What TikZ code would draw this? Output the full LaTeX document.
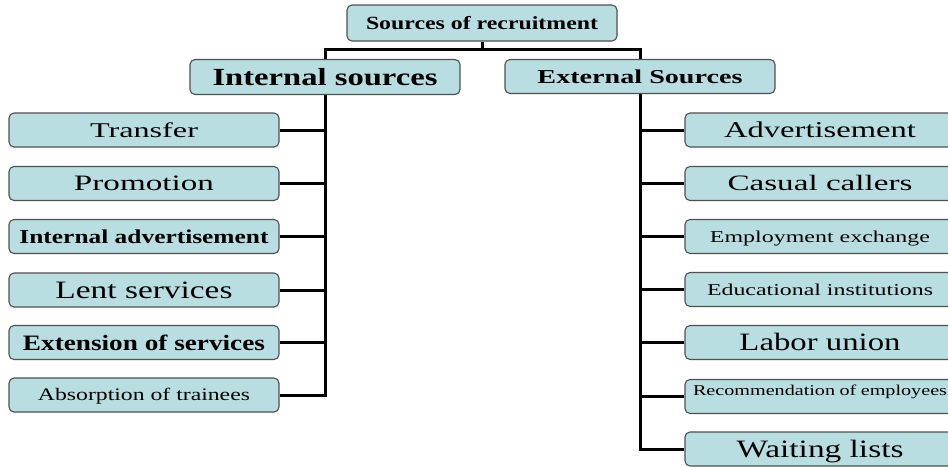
\documentclass[tikz,border=0pt]{standalone}
\usepackage{fontspec}
\setmainfont{Liberation Serif}
\usetikzlibrary{backgrounds}
\definecolor{boxfill}{RGB}{185,222,226}
\definecolor{boxline}{RGB}{80,80,80}
\newcommand{\fitbox}[3]{\resizebox{#1pt}{\height}{\fontsize{#2pt}{#2pt}\selectfont #3}}
\tikzset{
  box/.style={draw=boxline, line width=1.1pt, fill=boxfill, rounded corners=5pt,
    minimum width=270pt, minimum height=34pt, inner sep=0pt, text depth=0pt},
  cap/.style={text height=#1pt},
  conn/.style={line width=3pt, black}
}
\begin{document}
\begin{tikzpicture}[x=1pt,y=-1pt]
\useasboundingbox (0,0) rectangle (948,466);
\clip (0,0) rectangle (948,466);
% top
\node[box, minimum height=36pt, cap=12.5] (top) at (482,23) {\fitbox{232}{18.6}{\bfseries Sources of recruitment}};
\node[box, minimum height=35pt, cap=16.7] (int) at (325,77) {\fitbox{225}{24.6}{\bfseries Internal sources}};
\node[box, cap=13.3] (ext) at (640,76.5) {\fitbox{205}{19.7}{\bfseries External Sources}};
% left
\node[box, cap=14] (t1) at (144,130) {\fitbox{108}{21}{Transfer}};
\node[box, cap=14.6] (t2) at (144,183.5) {\fitbox{140}{22}{Promotion}};
\node[box, cap=13.3] (t3) at (144,236.5) {\fitbox{249}{19.7}{\bfseries Internal advertisement}};
\node[box, cap=16.5] (t4) at (144,290) {\fitbox{177}{25}{Lent services}};
\node[box, cap=15] (t5) at (144,342.5) {\fitbox{242}{22}{\bfseries Extension of services}};
\node[box, cap=11.7] (t6) at (144,395) {\fitbox{212}{17.6}{Absorption of trainees}};
% right
\node[box, cap=15] (a1) at (820,130) {\fitbox{192}{22.6}{Advertisement}};
\node[box, cap=14.6] (a2) at (820,183.5) {\fitbox{185}{22}{Casual callers}};
\node[box, cap=11] (a3) at (820,236.5) {\fitbox{220}{16.6}{Employment exchange}};
\node[box, cap=11] (a4) at (820,289.5) {\fitbox{226}{16.6}{Educational institutions}};
\node[box, cap=16.5] (a5) at (820,342.5) {\fitbox{161}{25}{Labor union}};
\node[box, cap=10, text depth=12pt, text width=254pt, align=left] (a6) at (820,396.5) {\fitbox{254}{15}{Recommendation of employees}};
\node[box, cap=16.5] (a7) at (820,449) {\fitbox{167}{25}{Waiting lists}};
\begin{scope}[on background layer]
\coordinate (j) at (482,49);
\draw[conn] (top.south) -- (j);
\draw[conn] (t6.east) -| (int.center |- j) -| (ext.center |- a7.west) -- (a7.west);
\foreach \n in {t1,t2,t3,t4,t5}{\draw[conn] (\n.east) -- (int.center |- \n.east);}
\foreach \n in {a1,a2,a3,a4,a5,a6}{\draw[conn] (\n.west) -- (ext.center |- \n.west);}
\end{scope}
\end{tikzpicture}
\end{document}
